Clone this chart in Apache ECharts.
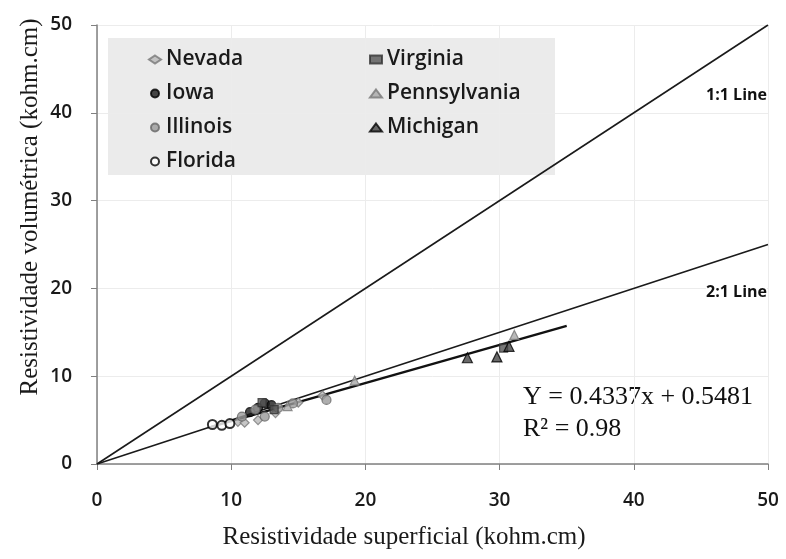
<!DOCTYPE html>
<html><head><meta charset="utf-8">
<script src="https://cdn.jsdelivr.net/npm/echarts@6/dist/echarts.min.js"></script>
<style>html,body{margin:0;padding:0;background:#fff}#c{width:786px;height:559px}</style>
</head><body><div id="c"></div>
<script>
var xTicks = [0, 10, 20, 30, 40, 50];
var yTicks = [0, 10, 20, 30, 40, 50];
var nevada = [[10.5,4.8],[11.0,4.7],[12.0,5.0],[13.3,5.8],[15.0,7.0],[16.8,7.8]];
var iowa = [[11.4,5.9],[12.0,6.4],[12.5,6.9],[13.0,6.7]];
var illinois = [[10.8,5.4],[11.8,6.2],[12.5,5.4],[13.5,6.4],[14.6,6.9],[17.1,7.3]];
var florida = [[8.6,4.5],[9.3,4.4],[9.9,4.6]];
var virginia = [[12.3,7.0],[13.2,6.2],[30.3,13.2]];
var pennsylvania = [[14.2,6.6],[19.2,9.5],[31.1,14.7]];
var michigan = [[27.6,12.1],[29.8,12.2],[30.7,13.4]];
var line11 = [[0,0],[50,50]];
var line21 = [[0,0],[50,25]];
var regLine = [[8.5,4.23],[35,15.73]];
var eqText = ['Y = 0.4337x + 0.5481', 'R² = 0.98'];

var chart = echarts.init(document.getElementById('c'));
var sans = 'Open Sans';
function sc(name, data, symbol, color, border, size) {
  return {type:'scatter', name:name, data:data, symbol:symbol, symbolSize:size||9,
    itemStyle:{color:color, borderColor:border, borderWidth:1.2}, z:5};
}
var legendText = {fontFamily:sans, fontSize:21, fontWeight:600, color:'#1a1a1a', lineHeight:21};
chart.setOption({
  animation:false,
  backgroundColor:'#fff',
  grid:{left:97, right:18, top:25, bottom:95},
  xAxis:{type:'value', min:0, max:50, interval:10,
    axisLine:{lineStyle:{color:'#808080', width:1.5}},
    axisTick:{show:true, length:6, lineStyle:{color:'#808080'}},
    axisLabel:{fontFamily:sans, fontSize:19, fontWeight:600, color:'#1a1a1a', margin:27},
    splitLine:{show:true, lineStyle:{color:'#ececec', width:1}}},
  yAxis:{type:'value', min:0, max:50, interval:10,
    axisLine:{show:true, lineStyle:{color:'#808080', width:1.5}},
    axisTick:{show:true, length:6, lineStyle:{color:'#808080'}},
    axisLabel:{fontFamily:sans, fontSize:19, fontWeight:600, color:'#1a1a1a', margin:25},
    splitLine:{show:true, lineStyle:{color:'#ececec', width:1}}},
  legend:[
    {orient:'vertical', left:143, top:44, itemWidth:12, itemHeight:8, itemGap:13,
     textStyle:legendText, data:['Nevada','Iowa','Illinois','Florida']},
    {orient:'vertical', left:364, top:44, itemWidth:12, itemHeight:8, itemGap:13,
     textStyle:legendText, data:['Virginia','Pennsylvania','Michigan']}
  ],
  graphic:[
    {type:'rect', left:108, top:38, shape:{width:447, height:137}, style:{fill:'#ebebeb'}, z:-1, silent:true},
    {type:'text', x:404, y:537, style:{text:'Resistividade superficial (kohm.cm)', font:'25px "Liberation Serif"', fill:'#1a1a1a', textAlign:'center', textVerticalAlign:'middle'}},
    {type:'text', x:30, y:207, rotation:Math.PI/2, style:{text:'Resistividade volumétrica (kohm.cm)', font:'25px "Liberation Serif"', fill:'#1a1a1a', textAlign:'center', textVerticalAlign:'middle'}},
    {type:'text', x:523, y:397, style:{text:eqText[0], font:'26px "Liberation Serif"', fill:'#111', textVerticalAlign:'middle'}},
    {type:'text', x:523, y:429, style:{text:eqText[1], font:'26px "Liberation Serif"', fill:'#111', textVerticalAlign:'middle'}},
    {type:'text', x:767, y:95, z:10, style:{text:'1:1 Line', font:'bold 16px "Open Sans"', fill:'#111', textAlign:'right', textVerticalAlign:'middle', backgroundColor:'#fff'}},
    {type:'text', x:767, y:292, z:10, style:{text:'2:1 Line', font:'bold 16px "Open Sans"', fill:'#111', textAlign:'right', textVerticalAlign:'middle', backgroundColor:'#fff'}}
  ],
  series:[
    {type:'line', name:'1:1', data:line11, symbol:'none', lineStyle:{color:'#1a1a1a', width:1.6}, z:3},
    {type:'line', name:'2:1', data:line21, symbol:'none', lineStyle:{color:'#1a1a1a', width:1.6}, z:3},
    {type:'line', name:'fit', data:regLine, symbol:'none', lineStyle:{color:'#111', width:2.5}, z:4},
    sc('Nevada', nevada, 'diamond', '#b8b8b8', '#777', 9),
    sc('Iowa', iowa, 'circle', '#1a1a1a', '#000', 9),
    sc('Illinois', illinois, 'circle', '#9a9a9a', '#666', 9),
    sc('Florida', florida, 'emptyCircle', '#000', '#000', 9),
    sc('Virginia', virginia, 'rect', '#555', '#333', 8),
    sc('Pennsylvania', pennsylvania, 'triangle', '#a8a8a8', '#777', 9),
    sc('Michigan', michigan, 'triangle', '#444', '#000', 10)
  ]
});
</script></body></html>
